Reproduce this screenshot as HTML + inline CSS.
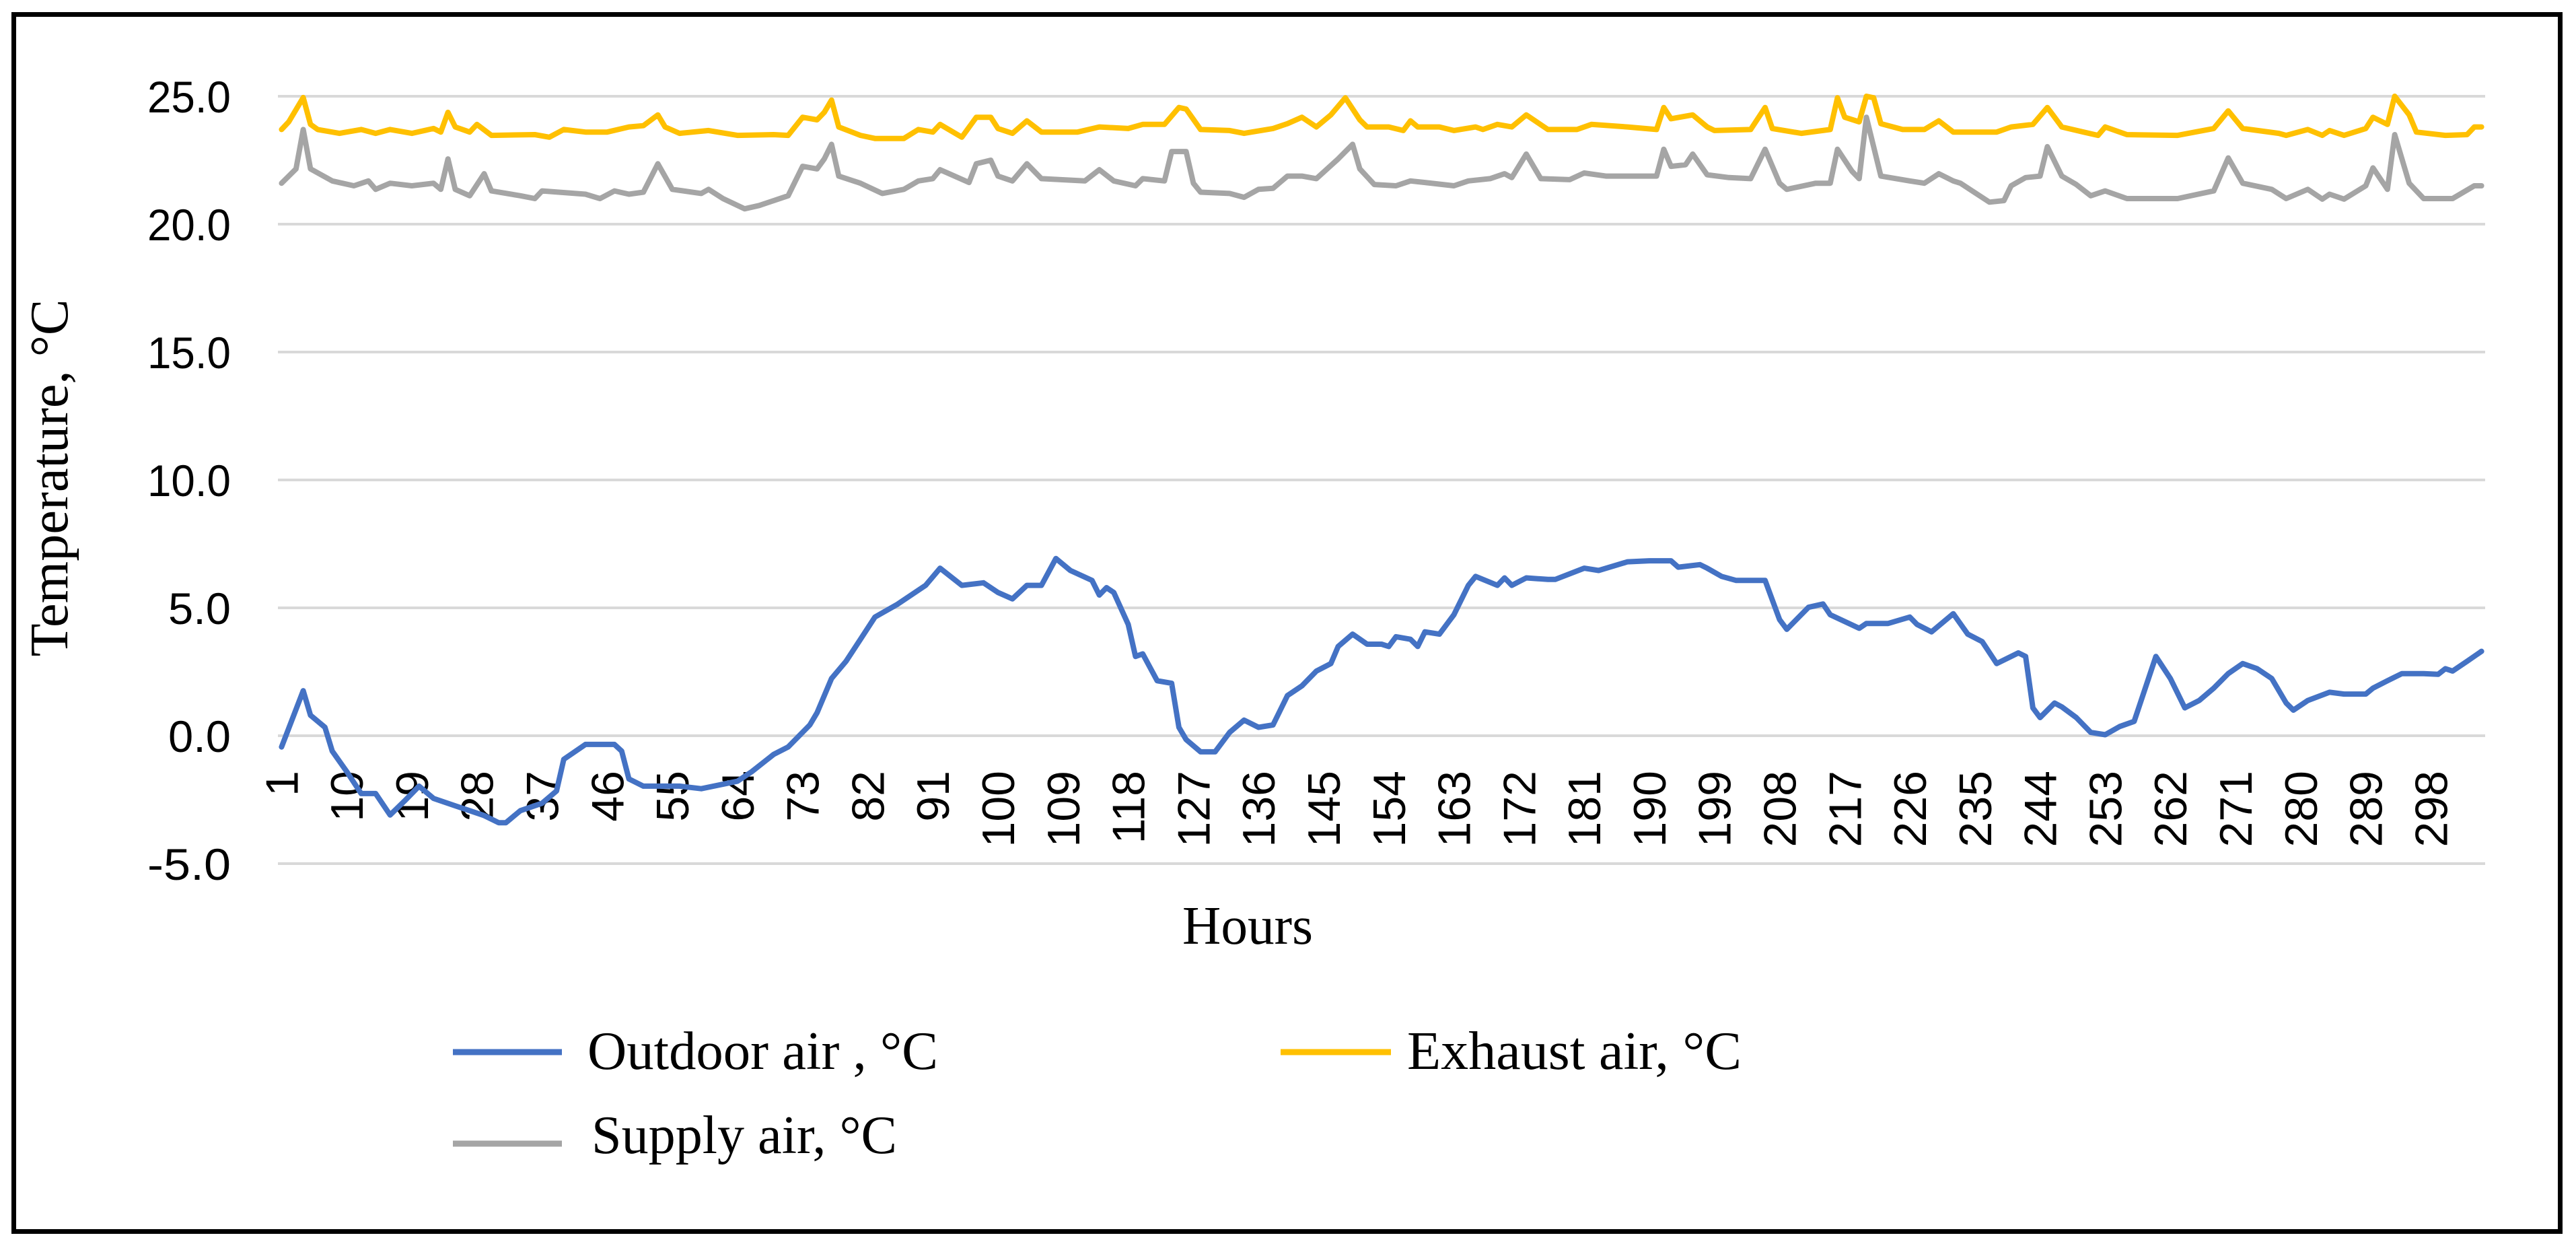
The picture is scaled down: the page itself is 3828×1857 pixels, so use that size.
<!DOCTYPE html>
<html><head><meta charset="utf-8"><style>
html,body{margin:0;padding:0;background:#fff;}
svg{display:block;}
</style></head><body>
<svg id="chart" width="3828" height="1857" viewBox="0 0 3828 1857" xmlns="http://www.w3.org/2000/svg">
<rect x="0" y="0" width="3828" height="1857" fill="#fff"/>
<rect x="20.5" y="21.5" width="3784" height="1808" fill="none" stroke="#000" stroke-width="7"/>
<g id="grid"></g>
<g id="ylabels"></g>
<g id="xlabels"></g>
<g id="series"></g>
<text x="100" y="710" transform="rotate(-90 100 710)" text-anchor="middle" font-family="'Liberation Serif', serif" font-size="80" textLength="531" lengthAdjust="spacingAndGlyphs" fill="#000">Temperature, °C</text>
<text x="1854" y="1402" text-anchor="middle" font-family="'Liberation Serif', serif" font-size="80" textLength="194" lengthAdjust="spacingAndGlyphs" fill="#000">Hours</text>
<g>
<g>
<line x1="673" y1="1563" x2="835" y2="1563" stroke="#4472C4" stroke-width="9"/>
<text x="873" y="1588" font-family="'Liberation Serif', serif" font-size="80" textLength="521" lengthAdjust="spacingAndGlyphs" fill="#000">Outdoor air , °C</text>
</g>
<g>
<line x1="1903" y1="1563" x2="2067" y2="1563" stroke="#FFC000" stroke-width="9"/>
<text x="2091" y="1588" font-family="'Liberation Serif', serif" font-size="80" textLength="497" lengthAdjust="spacingAndGlyphs" fill="#000">Exhaust air, °C</text>
</g>
<g>
<line x1="673" y1="1699" x2="835" y2="1699" stroke="#A5A5A5" stroke-width="9"/>
<text x="879" y="1713" font-family="'Liberation Serif', serif" font-size="80" textLength="454" lengthAdjust="spacingAndGlyphs" fill="#000">Supply air, °C</text>
</g>
</g>
</svg>
<script>
const yTicks = [-5, 0, 5, 10, 15, 20, 25];
const yTickLabels = ["-5.0", "0.0", "5.0", "10.0", "15.0", "20.0", "25.0"];
const categoryCount = 305;
const xTickLabels = [1,10,19,28,37,46,55,64,73,82,91,100,109,118,127,136,145,154,163,172,181,190,199,208,217,226,235,244,253,262,271,280,289,298];

const outdoorHours = [1,4,5,7,8,10,12,14,16,18,20,22,25,29,31,32,34,37,39,40,43,47,48,49,51,56,59,64,66,69,71,74,75,77,79,81,83,86,90,92,95,98,100,102,104,106,108,110,113,114,115,116,118,119,120,122,124,125,126,128,130,132,134,136,138,140,142,144,146,147,149,151,153,154,155,157,158,159,161,163,165,166,169,170,171,173,176,177,181,183,187,190,193,194,197,198,200,202,206,208,209,212,214,215,219,220,223,226,227,229,232,234,236,238,241,242,243,244,246,247,249,251,253,255,257,260,262,264,266,268,270,272,274,276,278,279,281,284,286,289,290,292,294,297,299,300,301,303,305];
const outdoorValues = [-0.44,1.76,0.8,0.33,-0.6,-1.4,-2.26,-2.26,-3.1,-2.55,-1.97,-2.45,-2.74,-3.12,-3.4,-3.4,-2.93,-2.64,-2.16,-0.92,-0.34,-0.34,-0.6,-1.69,-1.97,-1.97,-2.07,-1.78,-1.4,-0.73,-0.44,0.42,0.9,2.24,2.91,3.77,4.64,5.12,5.88,6.55,5.88,5.98,5.6,5.35,5.88,5.88,6.93,6.46,6.07,5.5,5.79,5.6,4.35,3.1,3.2,2.15,2.05,0.33,-0.15,-0.63,-0.63,0.13,0.61,0.33,0.42,1.57,1.95,2.53,2.82,3.49,3.97,3.58,3.58,3.49,3.87,3.77,3.49,4.06,3.97,4.73,5.88,6.23,5.88,6.17,5.88,6.17,6.11,6.11,6.55,6.46,6.8,6.84,6.84,6.59,6.69,6.55,6.23,6.07,6.07,4.54,4.16,5.02,5.15,4.73,4.2,4.39,4.39,4.64,4.35,4.06,4.77,3.97,3.68,2.82,3.24,3.1,1.09,0.71,1.28,1.13,0.71,0.13,0.04,0.36,0.56,3.1,2.24,1.09,1.38,1.86,2.43,2.82,2.62,2.24,1.28,1.0,1.38,1.7,1.63,1.63,1.86,2.15,2.43,2.43,2.4,2.62,2.53,2.91,3.3];

const exhaustHours = [1,2,4,5,6,9,12,14,16,19,22,23,24,25,27,28,30,36,38,40,43,46,49,51,53,54,56,60,64,69,71,73,75,76,77,78,81,83,87,89,91,92,95,97,99,100,102,104,106,111,114,118,120,123,125,126,128,132,134,138,140,142,144,146,148,150,151,154,156,157,158,161,163,166,167,169,171,173,176,180,182,187,191,192,193,196,198,199,204,206,207,211,215,216,217,219,220,221,222,225,228,230,232,238,240,243,245,247,250,252,253,256,263,268,270,272,277,278,281,283,284,286,289,290,292,293,295,296,300,303,304,305];
const exhaustValues = [23.7,24.0,24.95,23.9,23.7,23.55,23.7,23.55,23.7,23.55,23.74,23.6,24.37,23.8,23.6,23.9,23.47,23.5,23.4,23.7,23.6,23.6,23.8,23.85,24.27,23.8,23.55,23.66,23.47,23.5,23.47,24.18,24.08,24.37,24.85,23.8,23.47,23.35,23.35,23.7,23.6,23.9,23.4,24.18,24.18,23.74,23.55,24.04,23.6,23.6,23.8,23.74,23.9,23.9,24.56,24.5,23.7,23.66,23.55,23.74,23.93,24.18,23.8,24.27,24.94,24.08,23.8,23.8,23.66,24.04,23.8,23.8,23.66,23.8,23.7,23.9,23.8,24.27,23.7,23.7,23.9,23.8,23.7,24.56,24.12,24.27,23.8,23.66,23.7,24.56,23.74,23.55,23.7,24.94,24.18,24.0,25.0,24.94,23.93,23.7,23.7,24.04,23.6,23.6,23.8,23.9,24.56,23.8,23.6,23.47,23.8,23.5,23.47,23.74,24.43,23.74,23.55,23.47,23.7,23.47,23.66,23.47,23.74,24.18,23.9,25.0,24.27,23.6,23.47,23.5,23.8,23.8];

const supplyHours = [1,3,4,5,8,11,13,14,16,19,22,23,24,25,27,29,30,34,36,37,43,45,47,49,51,53,55,59,60,62,65,67,71,73,75,76,77,78,81,84,87,89,91,92,96,97,99,100,102,104,106,112,114,116,119,120,123,124,126,127,128,132,134,136,138,140,142,144,147,149,150,152,155,157,159,163,165,168,170,171,173,175,179,181,184,191,192,193,195,196,198,201,204,206,208,209,213,215,216,218,219,220,222,226,228,230,232,233,237,239,240,242,244,245,247,249,251,253,256,263,268,270,272,276,278,281,283,284,286,289,290,292,293,295,297,301,304,305];
const supplyValues = [21.6,22.16,23.7,22.16,21.69,21.5,21.69,21.36,21.6,21.5,21.6,21.36,22.55,21.36,21.11,21.97,21.3,21.11,21.0,21.3,21.17,21.0,21.3,21.17,21.25,22.36,21.36,21.2,21.36,21.0,20.6,20.73,21.11,22.26,22.16,22.55,23.12,21.88,21.6,21.2,21.36,21.69,21.78,22.13,21.63,22.36,22.5,21.88,21.69,22.36,21.78,21.69,22.13,21.69,21.5,21.78,21.69,22.84,22.84,21.6,21.25,21.2,21.05,21.36,21.4,21.88,21.88,21.78,22.55,23.12,22.16,21.55,21.5,21.69,21.63,21.5,21.69,21.78,21.97,21.82,22.74,21.78,21.74,22.0,21.88,21.88,22.93,22.26,22.32,22.74,21.93,21.82,21.78,22.93,21.6,21.36,21.6,21.6,22.93,22.07,21.78,24.18,21.88,21.69,21.6,21.97,21.69,21.6,20.86,20.92,21.5,21.82,21.88,23.03,21.88,21.55,21.11,21.3,21.0,21.0,21.3,22.59,21.6,21.36,21.0,21.36,20.98,21.17,20.98,21.5,22.2,21.36,23.5,21.6,21.0,21.0,21.5,21.5];

const NS = "http://www.w3.org/2000/svg";
const PLOT_L = 413, PLOT_R = 3693, Y0 = 1093, PX_PER_DEG = 38;
function xScale(hour){ return PLOT_L + (hour - 0.5) * (PLOT_R - PLOT_L) / categoryCount; }
function yScale(v){ return Y0 - v * PX_PER_DEG; }

const grid = document.getElementById('grid');
const ylabels = document.getElementById('ylabels');
yTicks.forEach((t, i) => {
  const y = yScale(t);
  const ln = document.createElementNS(NS, 'line');
  ln.setAttribute('x1', PLOT_L); ln.setAttribute('x2', PLOT_R);
  ln.setAttribute('y1', y); ln.setAttribute('y2', y);
  ln.setAttribute('stroke', '#D9D9D9'); ln.setAttribute('stroke-width', '4');
  
  
  grid.appendChild(ln);
  const lbl = yTickLabels[i];
  const tx = document.createElementNS(NS, 'text');
  tx.setAttribute('x', 343); tx.setAttribute('y', y + 24);
  tx.setAttribute('text-anchor', 'end');
  tx.setAttribute('font-family', "'Liberation Sans', sans-serif");
  tx.setAttribute('font-size', '66');
  tx.setAttribute('textLength', String(lbl.length * 31));
  tx.setAttribute('lengthAdjust', 'spacingAndGlyphs');
  tx.setAttribute('fill', '#000');
  tx.textContent = lbl;
  
  
  ylabels.appendChild(tx);
});

const xlabels = document.getElementById('xlabels');
xTickLabels.forEach(h => {
  const cx = xScale(h) + 24, cy = 1145;
  const tx = document.createElementNS(NS, 'text');
  tx.setAttribute('x', cx); tx.setAttribute('y', cy);
  tx.setAttribute('transform', 'rotate(-90 ' + cx + ' ' + cy + ')');
  tx.setAttribute('text-anchor', 'end');
  tx.setAttribute('font-family', "'Liberation Sans', sans-serif");
  tx.setAttribute('font-size', '68');
  tx.setAttribute('fill', '#000');
  tx.textContent = String(h);
  
  
  xlabels.appendChild(tx);
});

const series = document.getElementById('series');
function drawSeries(hours, values, color, name){
  const pts = hours.map((h, i) => xScale(h).toFixed(1) + ',' + yScale(values[i]).toFixed(1)).join(' ');
  const pl = document.createElementNS(NS, 'polyline');
  pl.setAttribute('points', pts);
  pl.setAttribute('fill', 'none');
  pl.setAttribute('stroke', color);
  pl.setAttribute('stroke-width', '8');
  pl.setAttribute('stroke-linejoin', 'round');
  pl.setAttribute('stroke-linecap', 'round');
  
  
  series.appendChild(pl);
}
drawSeries(supplyHours, supplyValues, '#A5A5A5', 'supply-air-line');
drawSeries(exhaustHours, exhaustValues, '#FFC000', 'exhaust-air-line');
drawSeries(outdoorHours, outdoorValues, '#4472C4', 'outdoor-air-line');
</script>
</body></html>
